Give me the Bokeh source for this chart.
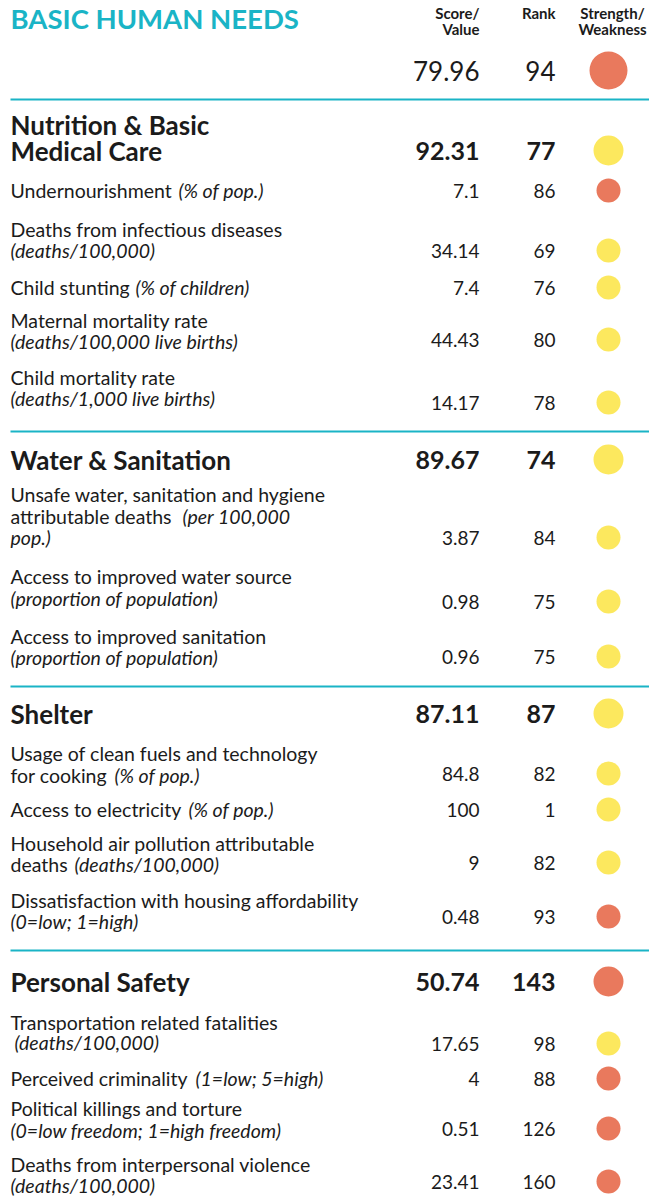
from bokeh.plotting import figure
from bokeh.models import Range1d
from bokeh.core.properties import value
from bokeh.embed import file_html
from bokeh.resources import INLINE

# ---------------- data ----------------
title = "BASIC HUMAN NEEDS"
col_headers = [["Score/", "Value"], ["Rank"], ["Strength/", "Weakness"]]

overall_score = "79.96"
overall_rank = "94"
overall_status = "weakness"

section_names = [["Nutrition & Basic", "Medical Care"], ["Water & Sanitation"], ["Shelter"], ["Personal Safety"]]
section_scores = ["92.31", "89.67", "87.11", "50.74"]
section_ranks = ["77", "74", "87", "143"]
section_status = ["neutral", "neutral", "neutral", "weakness"]

ind_names = [
    ["Undernourishment"],
    ["Deaths from infectious diseases"],
    ["Child stunting"],
    ["Maternal mortality rate"],
    ["Child mortality rate"],
    ["Unsafe water, sanitation and hygiene", "attributable deaths"],
    ["Access to improved water source"],
    ["Access to improved sanitation"],
    ["Usage of clean fuels and technology", "for cooking"],
    ["Access to electricity"],
    ["Household air pollution attributable", "deaths"],
    ["Dissatisfaction with housing affordability"],
    ["Transportation related fatalities"],
    ["Perceived criminality"],
    ["Political killings and torture"],
    ["Deaths from interpersonal violence"],
]
ind_units = [
    ["(% of pop.)"],
    ["(deaths/100,000)"],
    ["(% of children)"],
    ["(deaths/100,000 live births)"],
    ["(deaths/1,000 live births)"],
    ["(per 100,000", "pop.)"],
    ["(proportion of population)"],
    ["(proportion of population)"],
    ["(% of pop.)"],
    ["(% of pop.)"],
    ["(deaths/100,000)"],
    ["(0=low; 1=high)"],
    ["(deaths/100,000)"],
    ["(1=low; 5=high)"],
    ["(0=low freedom; 1=high freedom)"],
    ["(deaths/100,000)"],
]
ind_values = ["7.1", "34.14", "7.4", "44.43", "14.17", "3.87", "0.98", "0.96",
              "84.8", "100", "9", "0.48", "17.65", "4", "0.51", "23.41"]
ind_ranks = ["86", "69", "76", "80", "78", "84", "75", "75",
             "82", "1", "82", "93", "98", "88", "126", "160"]
ind_status = ["weakness", "neutral", "neutral", "neutral", "neutral", "neutral", "neutral", "neutral",
              "neutral", "neutral", "neutral", "weakness", "neutral", "weakness", "weakness", "weakness"]

# ---------------- layout (page pixels) ----------------
section_line_y = [[124, 150], [459], [713], [981]]
section_value_y = [150, 459, 713, 981]
rule_y = [99, 431, 686, 950]
ind_line_y = [[190], [229, 250], [287], [320, 341], [377, 398], [494, 516, 537],
              [576, 598], [636, 657], [753, 775], [809], [843, 864], [900, 921],
              [1022, 1042], [1078], [1108, 1130], [1164, 1185]]
ind_value_y = [190, 250, 287, 339, 402, 537, 601, 656, 773, 809, 862, 916, 1043, 1078, 1128, 1181]
unit_first_line = [0, 1, 0, 1, 1, 1, 1, 1, 1, 0, 1, 1, 1, 0, 1, 1]
unit_first_x = [178, 10, 135, 10, 10, 182, 10, 10, 114, 188, 74, 10, 14, 195, 10, 10]

W, H = 649, 1196
LEFT = 10
SCORE_X = 479
RANK_X = 555
DOT_X = 608
STATUS_COLORS = {"weakness": "#E9795D", "neutral": "#FCE85E"}
CYAN = "#1AB4C6"
INK = "#1b1b1b"
FONT = value("Lato")

p = figure(width=W, height=H, x_range=Range1d(0, W), y_range=Range1d(H, 0),
           output_backend="svg", toolbar_location=None, min_border=0)
p.axis.visible = False
p.xgrid.visible = False
p.ygrid.visible = False
p.outline_line_color = None
p.background_fill_color = "white"
p.border_fill_color = "white"


def txt(xs, ys, texts, size, align="left", style="normal", color=INK):
    p.text(x=xs, y=ys, text=texts, text_font=FONT, text_font_size=value(size),
           text_font_style=style, text_color=color, text_align=align, text_baseline="middle")


# title + headers
txt([LEFT], [18], [title], "27.5px", style="bold", color=CYAN)
txt([SCORE_X, SCORE_X], [12, 28], col_headers[0], "15px", align="right", style="bold")
txt([RANK_X], [12], col_headers[1], "15px", align="right", style="bold")
txt([612, 612], [12, 28], col_headers[2], "15px", align="center", style="bold")

# overall
txt([SCORE_X], [70], [overall_score], "26px", align="right")
txt([RANK_X], [70], [overall_rank], "26px", align="right")
p.circle(x=[DOT_X], y=[70], radius=19, fill_color=STATUS_COLORS[overall_status], line_color=None)

# rules
p.segment(x0=[LEFT] * len(rule_y), y0=rule_y, x1=[W] * len(rule_y), y1=rule_y,
          line_color=CYAN, line_width=2)

# sections
for i, names in enumerate(section_names):
    txt([LEFT] * len(names), section_line_y[i], names, "26px", style="bold")
txt([SCORE_X] * 4, section_value_y, section_scores, "25px", align="right", style="bold")
txt([RANK_X] * 4, section_value_y, section_ranks, "25px", align="right", style="bold")
p.circle(x=[DOT_X] * 4, y=section_value_y, radius=15,
         fill_color=[STATUS_COLORS[s] for s in section_status], line_color=None)

# indicators
rx, ry, rt, ix, iy, it = [], [], [], [], [], []
for i in range(len(ind_names)):
    for k, line in enumerate(ind_names[i]):
        rx.append(LEFT); ry.append(ind_line_y[i][k]); rt.append(line)
    for k, line in enumerate(ind_units[i]):
        li = unit_first_line[i] + k
        ix.append(unit_first_x[i] if k == 0 else LEFT)
        iy.append(ind_line_y[i][li]); it.append(line)
txt(rx, ry, rt, "19.5px")
txt(ix, iy, it, "19.5px", style="italic")
txt([SCORE_X] * len(ind_values), ind_value_y, ind_values, "19px", align="right")
txt([RANK_X] * len(ind_ranks), ind_value_y, ind_ranks, "19px", align="right")
p.circle(x=[DOT_X] * len(ind_status), y=ind_value_y, radius=12,
         fill_color=[STATUS_COLORS[s] for s in ind_status], line_color=None)

open("out.html", "w").write(file_html(p, INLINE))
